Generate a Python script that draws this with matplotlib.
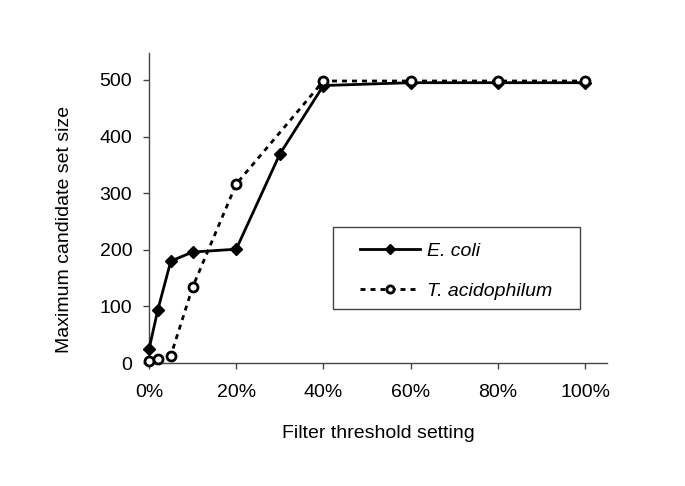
import matplotlib
matplotlib.use("Agg")
import matplotlib.pyplot as plt
from matplotlib.ticker import FuncFormatter
from matplotlib.patches import Rectangle

plt.rcParams['font.family'] = ['Liberation Sans', 'DejaVu Sans']

ecoli_x = [0, 2, 5, 10, 20, 30, 40, 60, 80, 100]
ecoli_y = [24, 93, 180, 196, 201, 369, 490, 495, 495, 495]
tacid_x = [0, 2, 5, 10, 20, 40, 60, 80, 100]
tacid_y = [3, 8, 13, 134, 316, 498, 498, 498, 498]
xticks = [0, 20, 40, 60, 80, 100]
yticks = [0, 100, 200, 300, 400, 500]

FS = 14

fig = plt.figure(figsize=(6.85, 4.86), dpi=100)
ax = fig.add_axes([0.2175, 0.253, 0.6685, 0.6386])

ax.plot(ecoli_x, ecoli_y, color='black', lw=2, marker='D', ms=6,
        mfc='black', mec='black', label='E. coli', zorder=3, clip_on=False)
ax.plot(tacid_x, tacid_y, color='black', lw=2, dashes=(1.8, 1.8), marker='o', ms=6.5,
        mfc='white', mec='black', mew=2, label='T. acidophilum', zorder=4, clip_on=False)

ax.set_xlim(0, 105)
ax.set_ylim(0, 548)
ax.set_xticks(xticks)
ax.set_yticks(yticks)
ax.xaxis.set_major_formatter(FuncFormatter(lambda v, p: f"{int(v)}%"))
for s in ['top', 'right']:
    ax.spines[s].set_visible(False)
for s in ['left', 'bottom']:
    ax.spines[s].set_color('#444444')
    ax.spines[s].set_linewidth(1)
ax.tick_params(direction='out', length=4, width=1, color='#444444', labelsize=FS)
ax.tick_params(axis='x', pad=11)
ax.tick_params(axis='y', pad=8)

ax.set_xlabel('Filter threshold setting', fontsize=FS)
ax.set_ylabel('Maximum candidate set size', fontsize=FS)
ax.xaxis.set_label_coords(0.5, -0.2)
ax.yaxis.set_label_coords(-0.165, 0.43)

# legend frame
ax.add_patch(Rectangle((0.402, 0.174), 0.539, 0.264, transform=ax.transAxes,
                       fill=True, facecolor='white', edgecolor='#444444', lw=1, zorder=5))
leg = ax.legend(loc='upper left', bbox_to_anchor=(0.4607, 0.389),
                frameon=False, fontsize=FS, handlelength=3.1, handletextpad=0.36,
                borderpad=0, labelspacing=1.15, borderaxespad=0, markerscale=0.8)
leg.set_zorder(6)
for t in leg.get_texts():
    t.set_fontstyle('italic')

fig.savefig('out.png', dpi=100)
